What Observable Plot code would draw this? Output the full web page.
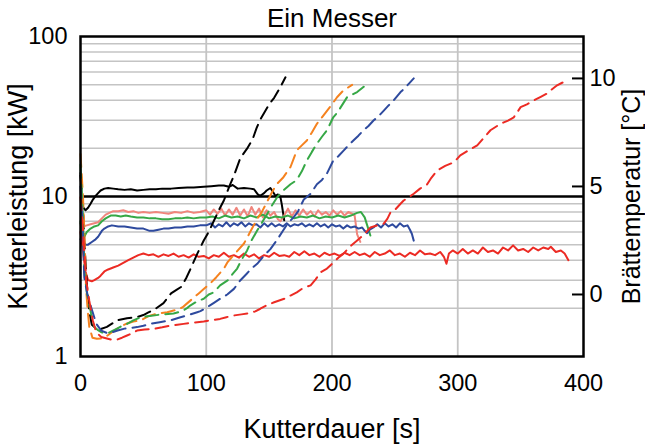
<!DOCTYPE html>
<html>
<head>
<meta charset="utf-8">
<script src="https://cdn.jsdelivr.net/npm/d3@7"></script>
<script src="https://cdn.jsdelivr.net/npm/@observablehq/plot@0.6"></script>
<style>
  html, body { margin: 0; padding: 0; background: #fff; }
</style>
</head>
<body>
<div id="chart"></div>
<script>
// ---------- text ----------
const title = "Ein Messer";
const xLabel = "Kutterdauer [s]";
const yLabelLeft = "Kutterleistung [kW]";
const yLabelRight = "Brättemperatur [°C]";

// ---------- ticks ----------
const xTicks = [0, 100, 200, 300, 400];
const powerTicks = [1, 10, 100];
const tempTicks = [0, 5, 10];
const xGrid = [100, 200, 300];
const powerDomain = [1, 100];
const tempDomain = [-2.87, 11.94];
const referenceLine = [10];   // kW

// ---------- power series [s, kW] (solid) ----------
const powerBlack = [[0,14],[1,10],[2,8.6],[4,8.2],[6,8.5],[8,9.0],[10,9.6],[12,10.1],[14,10.5],[16,10.9],[19,11.2],[22,11.3],[26,11.2],[30,11.1],[35,11.0],[40,11.1],[45,10.9],[50,11.0],[55,11.1],[60,11.1],[65,11.2],[72,11.2],[78,11.3],[85,11.4],[90,11.4],[98,11.5],[104,11.6],[110,11.7],[114,11.7],[118,11.5],[121,11.8],[125,11.2],[130,11.3],[135,11.2],[138,11.1],[141,10.3],[143,10.1],[146,10.5],[148,10.9],[151,11.3],[153,10.7],[155,10.1],[157,10.3],[159,9.9],[160,9.0],[161,8.0],[162,7.1]];
const powerSalmon = [[0,6.8],[2,6.5],[5,6.6],[8,6.7],[11,6.8],[14,6.9],[17,7.3],[20,7.7],[23,7.9],[26,8.1],[30,8.1],[34,8.2],[38,8.0],[42,8.1],[46,7.9],[50,8.0],[55,7.9],[60,8.0],[65,7.9],[70,7.8],[75,8.0],[80,7.9],[85,8.1],[90,7.9],[95,8.0],[100,8.2],[103,7.7],[106,8.3],[109,7.8],[112,8.4],[115,7.6],[118,8.3],[121,7.7],[124,8.5],[127,7.6],[130,8.3],[133,7.5],[136,8.6],[139,7.7],[142,8.4],[145,7.4],[148,8.2],[151,7.6],[154,8.0],[157,7.2],[159,7.0],[162,7.6],[165,8.4],[168,7.5],[171,8.2],[174,7.6],[177,8.3],[180,7.7],[183,8.1],[186,7.5],[189,8.2],[192,7.7],[195,8.0],[198,7.6],[201,8.2],[204,7.7],[207,8.1],[210,7.6],[213,8.0],[216,7.8],[218,7.6],[220,5.8],[222.5,5.2]];
const powerGreen = [[0,7.0],[1,5.8],[3,5.6],[5,6.0],[8,6.3],[11,6.5],[14,6.6],[17,7.0],[20,7.3],[24,7.6],[28,7.6],[32,7.5],[36,7.6],[40,7.5],[45,7.4],[50,7.4],[55,7.3],[60,7.3],[65,7.2],[70,7.2],[75,7.3],[80,7.3],[85,7.4],[90,7.3],[95,7.4],[100,7.4],[105,7.5],[110,7.3],[115,7.6],[120,7.4],[125,7.5],[130,7.3],[135,7.6],[140,7.4],[145,7.7],[150,7.3],[155,7.5],[160,7.4],[165,7.6],[170,7.3],[175,7.5],[180,7.4],[185,7.6],[190,7.3],[195,7.5],[200,7.4],[205,7.6],[210,7.4],[215,7.6],[220,7.9],[223,8.0],[226,7.4],[228,6.6],[230.5,5.7]];
const powerBlue = [[0,5.4],[2,5.2],[4,5.0],[6,5.0],[9,5.2],[12,5.4],[14,5.6],[17,6.1],[19,6.3],[22,6.5],[25,6.6],[30,6.5],[35,6.5],[40,6.4],[45,6.3],[50,6.3],[55,6.1],[58,6.1],[62,6.2],[66,6.3],[70,6.3],[75,6.4],[80,6.4],[85,6.5],[90,6.5],[95,6.6],[100,6.6],[104,6.8],[107,6.4],[110,6.7],[113,6.5],[116,6.9],[119,6.5],[122,6.8],[125,6.6],[128,6.9],[131,6.5],[134,6.8],[137,6.6],[140,6.7],[143,6.4],[146,6.8],[149,6.5],[152,6.8],[155,6.5],[158,6.7],[161,6.5],[164,6.8],[167,6.5],[170,6.7],[173,6.6],[176,6.8],[179,6.5],[182,6.7],[185,6.5],[188,6.8],[191,6.5],[194,6.7],[197,6.4],[200,6.7],[203,6.5],[206,6.6],[209,6.3],[212,6.6],[215,6.4],[218,6.5],[221,6.3],[224,6.4],[226,6.1],[228,5.9],[230,6.2],[233,6.4],[236,6.7],[239,6.4],[242,6.8],[245,6.5],[248,6.7],[251,6.4],[254,6.8],[257,6.5],[260,6.6],[262,6.2],[263.5,5.85],[265,5.3]];
const powerRed = [[0,6.0],[2,4.5],[4,3.4],[6,3.0],[9,2.95],[11,3.0],[14,3.1],[16,3.2],[19,3.4],[22,3.5],[26,3.6],[30,3.7],[34,3.85],[38,4.0],[42,4.15],[46,4.3],[50,4.4],[54,4.3],[58,4.35],[62,4.2],[66,4.35],[70,4.25],[74,4.4],[78,4.2],[82,4.3],[86,4.15],[90,4.35],[94,4.2],[98,4.25],[102,4.1],[106,4.3],[110,4.2],[114,4.45],[118,4.2],[122,4.3],[126,4.15],[130,4.4],[134,4.2],[138,4.35],[142,4.1],[146,4.3],[150,4.2],[154,4.45],[158,4.25],[162,4.3],[166,4.2],[170,4.5],[174,4.3],[178,4.55],[182,4.3],[186,4.4],[190,4.2],[194,4.45],[198,4.3],[202,4.4],[206,4.25],[210,4.45],[214,4.3],[218,4.5],[222,4.3],[226,4.4],[230,4.2],[234,4.5],[238,4.3],[242,4.4],[246,4.6],[250,4.3],[254,4.4],[258,4.2],[262,4.45],[266,4.3],[270,4.6],[274,4.35],[278,4.4],[282,4.3],[286,4.5],[289,4.2],[291,3.8],[293,4.4],[296,4.6],[300,4.4],[304,4.7],[308,4.4],[312,4.6],[316,4.4],[320,4.8],[324,4.5],[328,4.6],[332,4.4],[336,4.8],[340,4.6],[344,4.95],[348,4.6],[352,4.7],[356,4.5],[360,4.8],[364,4.6],[368,4.8],[372,4.7],[374,4.85],[378,4.5],[382,4.6],[385,4.4],[388,4.0]];

// ---------- temperature series [s, °C] (dashed) ----------
const tempBlack = [[0,5.5],[2,4.0],[3,2.5],[5,0.5],[7,-0.8],[9,-1.4],[12,-1.55],[16,-1.6],[21,-1.5],[25,-1.35],[29,-1.2],[37,-1.1],[45,-1.05],[50,-0.95],[54,-0.83],[60,-0.65],[66,-0.4],[72,0.05],[76,0.2],[80,0.35],[84,0.75],[88,1.25],[93,1.9],[98,2.5],[102,2.9],[106,3.4],[110,3.9],[114,4.35],[119,5.1],[122,5.5],[127,6.3],[133,6.8],[137,7.2],[140,7.7],[143,8.1],[146,8.4],[150,8.8],[154,9.1],[158,9.5],[163,10.05]];
const tempOrange = [[0,6.5],[2,4.5],[3,3],[4.5,0.2],[6,-0.9],[7,-1.5],[9.5,-2.0],[13,-2.05],[16.5,-2.04],[21.5,-1.9],[25,-1.75],[29.5,-1.57],[33,-1.45],[37,-1.34],[42,-1.25],[48,-1.2],[54,-1.0],[61,-0.88],[69,-0.82],[77,-0.7],[81,-0.6],[85,-0.4],[90,-0.15],[94,0.05],[98,0.25],[103,0.5],[108,0.8],[114,1.2],[117,1.5],[123,1.9],[130,2.36],[135,2.9],[140.5,3.5],[144,3.8],[148.5,4.3],[152,4.7],[156,5.1],[161,5.4],[167,5.9],[172,6.67],[176,6.9],[180,7.13],[184,7.5],[188,7.9],[192,8.2],[196,8.5],[200,8.8],[204,9.13],[209,9.44],[212,9.55],[216,9.7]];
const tempGreen = [[0,6.0],[2,3.5],[3.2,1.0],[5,0.1],[8.5,-0.9],[11,-1.5],[14,-1.65],[16.5,-1.75],[21.5,-1.8],[25,-1.7],[29.5,-1.57],[33,-1.45],[37,-1.36],[42,-1.2],[48,-1.05],[55,-1.0],[63.6,-0.93],[74,-0.88],[81,-0.77],[85,-0.62],[87.5,-0.5],[93,-0.31],[98,-0.2],[102,0.0],[106,0.1],[111,0.42],[117,0.65],[121,0.95],[124.6,1.2],[128,1.6],[132.5,2.04],[136,2.5],[140.5,2.96],[144,3.3],[148.5,3.73],[152,4.1],[156.4,4.5],[161,4.8],[167,5.1],[172,5.3],[176,5.7],[180,6.2],[184,6.6],[188,6.98],[192,7.3],[196,7.6],[201,8.2],[204,8.4],[207,8.67],[212,9.13],[216,9.25],[220,9.37],[225,9.6],[229,9.85]];
const tempBlue = [[0,5.0],[1.5,3.5],[3,0.8],[5.5,0.0],[8.5,-0.6],[12.5,-1.35],[16.5,-1.67],[21.7,-1.8],[25,-1.75],[29.5,-1.67],[35,-1.58],[45,-1.51],[50,-1.45],[55.7,-1.36],[63,-1.28],[71.6,-1.2],[79.5,-1.05],[86,-0.95],[92.8,-0.82],[95.4,-0.77],[99,-0.65],[103,-0.5],[107,-0.35],[111,-0.2],[116.7,0.0],[122,0.26],[127,0.65],[132,0.95],[136,1.2],[140.5,1.42],[146,1.8],[151,2.1],[156,2.5],[161,2.95],[165,3.3],[169.6,3.58],[173,3.85],[177.6,4.4],[183,4.66],[188,5.1],[192,5.3],[196,5.6],[201,6.2],[205,6.4],[209.4,6.67],[213,6.9],[217,7.13],[221,7.35],[225,7.6],[229,7.8],[233,8.05],[237,8.25],[241,8.5],[245,8.75],[249,8.98],[254.5,9.37],[258,9.55],[261,9.75],[265,10.0]];
const tempRed = [[0,4.5],[2,3.0],[3,2.0],[4.5,0.65],[7,-0.3],[9.8,-1.2],[12.5,-1.75],[16.5,-1.97],[21.7,-2.05],[25,-2.1],[29.5,-2.08],[33,-2.0],[37,-1.9],[41,-1.8],[45,-1.67],[51,-1.62],[58,-1.59],[65,-1.52],[71.6,-1.44],[77,-1.4],[82,-1.36],[90,-1.3],[98,-1.25],[105,-1.18],[111,-1.13],[116,-1.05],[122,-0.97],[128,-0.92],[135,-0.86],[139,-0.78],[143,-0.66],[148,-0.5],[154,-0.36],[158,-0.28],[162,-0.2],[167,-0.05],[172,0.1],[177,0.3],[183,0.42],[187,0.7],[191,1.03],[196,1.2],[201.5,1.5],[205,1.7],[209,1.88],[214,2.2],[220,2.5],[225,2.75],[230.6,3.1],[236,3.2],[241,3.27],[244,3.5],[246.5,3.8],[249,3.85],[254.5,4.2],[257,4.35],[261,4.5],[265,4.66],[270,4.9],[275.7,5.1],[279,5.4],[283.6,5.74],[290,5.95],[297,6.12],[302,6.44],[308,6.65],[315.5,6.9],[320,7.2],[326,7.6],[334,7.9],[340,8.05],[344.6,8.2],[350,8.67],[355,8.8],[360.5,8.98],[366,9.15],[371,9.3],[375,9.5],[379,9.68],[383,9.8],[387,9.9]];

// ---------- mapping of the right (temperature) axis onto the log power scale ----------
const decades = Math.log10(powerDomain[1]) - Math.log10(powerDomain[0]);
const toPowerScale = T => powerDomain[0] * Math.pow(10, decades * (T - tempDomain[0]) / (tempDomain[1] - tempDomain[0]));

const logGrid = [];
for (let e = Math.log10(powerDomain[0]); e < Math.log10(powerDomain[1]); e++) {
  for (let m = 2; m <= 9; m++) logGrid.push(m * Math.pow(10, e));
}

const colors = {black: "#000000", salmon: "#f0857c", orange: "#f5821f", green: "#36a846", blue: "#2e4a9e", red: "#ec2b24"};
const font = "'Liberation Sans', Arial, Helvetica, sans-serif";

const powerSeries = [[powerBlack, colors.black], [powerSalmon, colors.salmon], [powerGreen, colors.green], [powerBlue, colors.blue], [powerRed, colors.red]];
const tempSeries = [[tempBlack, colors.black], [tempOrange, colors.orange], [tempGreen, colors.green], [tempBlue, colors.blue], [tempRed, colors.red]];

const chart = Plot.plot({
  width: 645,
  height: 445,
  marginLeft: 80,
  marginRight: 62,
  marginTop: 36,
  marginBottom: 89,
  style: {fontFamily: font, fontSize: "23px", color: "#000", background: "#fff", overflow: "visible"},
  x: {domain: [0, 400]},
  y: {type: "log", domain: powerDomain},
  marks: [
    Plot.gridY(logGrid, {stroke: "#c4c4c4", strokeOpacity: 1, strokeWidth: 1.5}),
    Plot.gridX(xGrid, {stroke: "#c4c4c4", strokeOpacity: 1, strokeWidth: 1.8}),
    Plot.ruleY(referenceLine, {stroke: "#000", strokeWidth: 2.5}),
    ...powerSeries.map(([data, c]) => Plot.line(data, {x: d => d[0], y: d => d[1], stroke: c, strokeWidth: 2})),
    ...tempSeries.map(([data, c]) => Plot.line(data, {x: d => d[0], y: d => toPowerScale(d[1]), stroke: c, strokeWidth: 2, strokeDasharray: "13,7"})),
    Plot.frame({stroke: "#000", strokeWidth: 2.5}),
    Plot.axisX(xTicks, {tickSize: 0, tickPadding: 18, fontSize: 23.5, label: null}),
    Plot.axisY(powerTicks, {anchor: "left", tickSize: 0, tickPadding: 13, fontSize: 23.5, tickFormat: d => String(d), label: null}),
    // right temperature axis: inward ticks and labels
    Plot.tickY(tempTicks, {y: d => toPowerScale(d), stroke: "#000", strokeWidth: 2, insetLeft: 492}),
    Plot.text(tempTicks, {y: d => toPowerScale(d), frameAnchor: "right", textAnchor: "start", dx: 6, fontSize: 23.5, text: d => String(d)}),
    // titles
    Plot.text([title], {frameAnchor: "top", lineAnchor: "middle", dy: -18, fontSize: 26, text: d => d}),
    Plot.text([xLabel], {frameAnchor: "bottom", lineAnchor: "middle", textAnchor: "middle", dy: 73, fontSize: 27, text: d => d}),
    Plot.text([yLabelLeft], {frameAnchor: "left", textAnchor: "middle", lineAnchor: "middle", dx: -62, rotate: -90, fontSize: 27, text: d => d}),
    Plot.text([yLabelRight], {frameAnchor: "right", textAnchor: "middle", lineAnchor: "middle", dx: 48, rotate: -90, fontSize: 25, text: d => d})
  ]
});
document.getElementById("chart").appendChild(chart);
</script>
</body>
</html>
